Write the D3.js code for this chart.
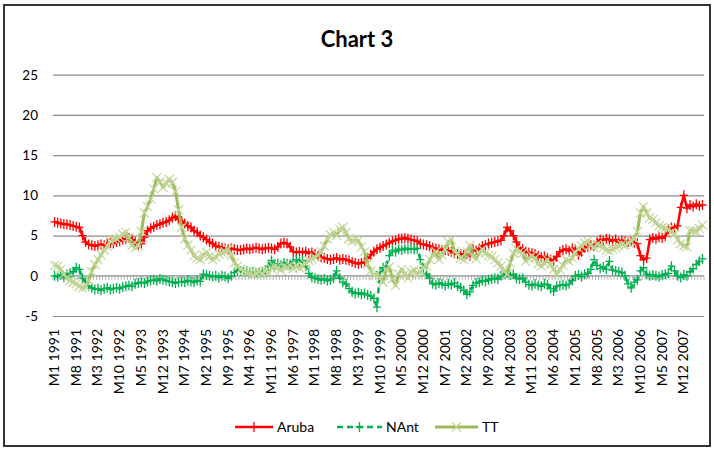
<!DOCTYPE html>
<html><head><meta charset="utf-8">
<script src="https://cdn.jsdelivr.net/npm/d3@7"></script>
<style>body{margin:0;background:#fff}svg{display:block}</style>
</head><body>
<svg id="c" width="714" height="450"></svg>
<script>
const title = "Chart 3";
const years = [1991,1992,1993,1994,1995,1996,1997,1998,1999,2000,2001,2002,2003,2004,2005,2006,2007,2008];
const monthsInLastYear = 6;
const categories = [];
years.forEach(yr => {
  const n = yr === 2008 ? monthsInLastYear : 12;
  for (let m = 1; m <= n; m++) categories.push("M" + m + " " + yr);
});
const labelStep = 7;
const yTicks = [-5, 0, 5, 10, 15, 20, 25];
const seriesNames = ["Aruba", "NAnt", "TT"];

const aruba = [
 6.7,6.6,6.5,6.4,6.4,6.3,6.2,6.1,6.0,5.0,4.2,3.9,
 3.8,3.7,3.8,3.9,3.8,4.0,4.1,4.0,4.2,4.3,4.5,4.6,
 4.7,4.5,4.2,3.9,4.0,4.8,5.6,5.9,6.1,6.3,6.4,6.6,
 6.7,6.9,7.2,7.4,7.0,6.8,6.5,6.2,6.0,5.6,5.4,5.0,
 4.8,4.5,4.2,4.0,3.7,3.6,3.5,3.4,3.3,3.4,3.3,3.2,
 3.2,3.3,3.4,3.3,3.4,3.5,3.4,3.3,3.4,3.5,3.4,3.3,
 3.6,4.0,4.1,4.0,3.6,3.0,2.9,3.0,2.9,3.0,2.8,2.9,
 2.7,2.5,2.3,2.2,2.1,2.0,2.1,2.2,2.0,2.1,2.0,1.9,
 1.7,1.6,1.5,1.6,1.7,2.2,2.6,3.0,3.3,3.5,3.7,3.9,
 4.1,4.3,4.4,4.6,4.6,4.7,4.6,4.5,4.4,4.3,4.0,3.9,
 3.8,3.7,3.5,3.4,3.3,3.2,3.2,3.1,3.0,2.8,2.7,2.7,
 2.6,2.7,2.5,3.3,3.1,3.4,3.7,3.8,4.0,4.1,4.2,4.3,
 4.4,5.0,6.0,5.6,5.0,4.2,3.5,3.3,3.0,2.9,2.8,2.7,
 2.5,2.3,2.4,2.2,2.0,1.9,2.4,3.0,3.2,3.3,3.1,3.4,
 3.3,2.6,3.0,3.5,3.6,3.8,3.7,4.2,4.5,4.4,4.6,4.5,
 4.3,4.5,4.2,4.4,4.3,4.2,4.3,4.1,4.0,2.5,2.0,2.2,
 4.5,4.7,4.6,4.8,4.7,4.9,5.8,6.0,5.9,6.2,8.5,10.0,
 8.4,8.8,8.6,8.9,8.7,8.8
];
const nant = [
 0.0,-0.1,0.1,-0.2,0.2,0.3,0.5,1.0,0.8,-0.3,-0.8,-1.3,
 -1.5,-1.7,-1.6,-1.8,-1.6,-1.5,-1.7,-1.6,-1.5,-1.6,-1.4,-1.3,
 -1.2,-1.3,-1.0,-0.9,-0.8,-0.9,-0.7,-0.6,-0.5,-0.6,-0.4,-0.5,
 -0.6,-0.7,-0.8,-0.9,-0.8,-0.7,-0.8,-0.6,-0.7,-0.8,-0.6,-0.7,
 0.2,0.1,0.0,-0.1,0.0,-0.2,0.0,-0.1,-0.3,0.0,0.4,0.7,
 0.6,0.5,0.6,0.4,0.5,0.3,0.4,0.5,0.4,1.2,1.9,1.4,
 1.5,1.3,1.6,1.5,1.4,1.8,2.0,1.7,1.9,1.2,0.3,-0.2,
 -0.3,-0.4,-0.5,-0.4,-0.6,-0.5,-0.3,0.6,-0.3,-0.8,-1.0,-1.6,
 -2.0,-2.2,-2.1,-2.3,-2.2,-2.4,-2.5,-2.8,-3.9,0.5,1.0,1.2,
 2.5,3.2,3.0,3.3,3.2,3.4,3.3,3.4,3.3,3.4,2.0,1.0,
 0.2,-0.3,-1.0,-1.1,-0.9,-1.0,-1.2,-1.0,-1.1,-0.9,-1.3,-1.5,
 -1.8,-2.3,-2.0,-1.2,-0.9,-0.8,-0.6,-0.7,-0.5,-0.4,-0.3,-0.4,
 0.0,0.2,0.3,0.1,0.2,-0.3,-0.4,-0.3,-0.8,-1.1,-1.2,-1.0,
 -1.2,-1.3,-1.0,-1.1,-1.6,-1.9,-1.3,-1.2,-1.1,-1.2,-1.0,-0.6,
 0.0,0.1,-0.1,0.2,0.3,0.8,2.0,1.3,0.9,1.1,0.8,1.8,
 0.7,0.6,0.5,0.4,0.0,-1.0,-1.5,-0.8,-0.5,0.6,1.0,0.2,
 0.0,0.1,0.0,-0.1,0.1,0.2,0.3,1.2,0.6,0.0,-0.2,0.1,
 0.0,0.5,0.9,1.4,1.8,2.1
];
const tt = [
 1.3,1.2,0.8,0.2,-0.3,-0.6,-0.8,-1.0,-1.3,-1.5,-1.4,-0.6,
 0.5,1.4,2.0,2.6,3.2,3.7,4.3,4.5,4.6,4.8,5.2,5.4,
 4.8,3.8,3.5,3.7,5.5,7.8,8.6,9.6,10.8,12.2,11.7,11.0,
 11.5,12.0,11.6,10.5,8.2,6.0,4.6,3.8,3.2,2.5,2.2,2.0,
 2.6,2.9,2.4,2.0,2.3,2.7,2.9,3.0,3.3,2.6,1.6,1.2,
 0.8,0.6,0.4,0.3,0.2,0.3,0.5,0.3,0.6,0.4,0.9,1.1,
 1.0,0.7,1.2,1.0,1.3,0.9,1.2,1.0,1.2,1.5,1.9,2.1,
 2.3,2.5,3.0,3.7,4.6,5.1,5.4,5.0,5.8,6.0,5.4,4.6,
 4.3,4.5,4.4,3.6,3.0,1.5,0.6,0.0,0.3,-0.3,-0.8,0.8,
 1.1,-0.4,-1.2,0.2,0.8,0.2,-0.3,0.5,0.7,0.2,0.5,1.1,
 1.2,2.0,2.6,3.0,2.0,2.6,3.3,4.2,4.5,3.0,2.8,2.2,
 2.0,3.0,3.8,2.5,2.1,2.9,3.3,2.8,2.5,2.4,2.0,1.6,
 1.2,0.6,0.2,1.6,2.8,3.3,3.0,2.8,1.8,2.2,2.5,2.2,
 1.5,1.2,1.6,2.0,1.4,0.8,0.2,0.8,1.3,2.0,1.8,2.2,
 2.9,3.4,3.7,4.1,4.3,3.8,3.5,3.9,3.8,3.5,3.2,3.1,
 3.3,3.5,3.7,3.9,3.8,4.1,4.3,4.6,5.5,7.8,8.6,7.8,
 7.2,7.0,6.6,6.2,6.0,5.9,5.8,5.4,5.2,4.5,4.0,3.7,
 3.6,5.6,5.6,5.5,5.9,6.3
];

const series = [
  {name: seriesNames[0], values: aruba, color: "#ff0000", mcolor: "#ff0000", dash: null, marker: "plus", width: 2.5},
  {name: seriesNames[1], values: nant, color: "#00b050", mcolor: "#00b050", dash: "6,4", marker: "plus", width: 2.5},
  {name: seriesNames[2], values: tt, color: "#9bbb59", mcolor: "#c3d69b", dash: null, marker: "cross", width: 3}
];

const svg = d3.select("#c");
const font = "Lato, 'Open Sans', sans-serif";
svg.append("rect").attr("x", 4).attr("y", 5).attr("width", 706).attr("height", 441)
  .attr("fill", "#fff").attr("stroke", "#333").attr("stroke-width", 2);

svg.append("text").attr("x", 357).attr("y", 47).attr("text-anchor", "middle")
  .attr("font-family", font).attr("font-weight", "bold").attr("font-size", 22)
  .attr("fill", "#000").text(title);

const x = d3.scaleBand().domain(categories).range([53, 704]);
const y = d3.scaleLinear().domain([-5, 25]).range([316, 74.7]);
const xc = c => x(c) + x.bandwidth() / 2;

// gridlines + y labels
const ya = svg.append("g").attr("transform", "translate(53,0)")
  .call(d3.axisLeft(y).tickValues(yTicks).tickSize(-651).tickPadding(15).tickFormat(d => String(d)));
ya.select(".domain").remove();
ya.selectAll(".tick line").attr("stroke", d => d === 0 ? "none" : "#8c8c8c").attr("stroke-width", 1.2);
ya.selectAll(".tick text").attr("font-family", font).attr("font-size", 13.5).attr("fill", "#000");

// category axis at zero
const y0 = y(0);
svg.append("line").attr("x1", 53).attr("x2", 704).attr("y1", y0).attr("y2", y0)
  .attr("stroke", "#8c8c8c").attr("stroke-width", 1.2);
svg.append("g").selectAll("line").data(categories.concat(["__end"])).join("line")
  .attr("x1", (d, i) => i < categories.length ? x(d) : 704)
  .attr("x2", (d, i) => i < categories.length ? x(d) : 704)
  .attr("y1", y0).attr("y2", y0 + 4).attr("stroke", "#999").attr("stroke-width", 0.8);

// category labels
svg.append("g").selectAll("text")
  .data(categories.filter((d, i) => i % labelStep === 0)).join("text")
  .attr("transform", d => `translate(${xc(d) + 4.5},329) rotate(-90)`)
  .attr("text-anchor", "end").attr("font-family", font).attr("font-size", 14)
  .attr("fill", "#000").text(d => d);

const line = d3.line().x((d, i) => xc(categories[i])).y(d => y(d));

function marker(g, type, cx, cy, color, size) {
  const s = size / 2;
  const p = type === "plus"
    ? `M${cx - s},${cy}H${cx + s}M${cx},${cy - s - 1}V${cy + s + 1}`
    : `M${cx - s},${cy - s}L${cx + s},${cy + s}M${cx - s},${cy + s}L${cx + s},${cy - s}`;
  g.append("path").attr("d", p).attr("stroke", color).attr("stroke-width", type === "plus" ? 1.3 : 1.2).attr("fill", "none");
}

series.forEach(s => {
  const g = svg.append("g");
  g.append("path").datum(s.values).attr("d", line).attr("fill", "none")
    .attr("stroke", s.color).attr("stroke-width", s.width)
    .attr("stroke-dasharray", s.dash).attr("stroke-linejoin", "round");
  const mg = svg.append("g");
  s.values.forEach((v, i) => marker(mg, s.marker, xc(categories[i]), y(v), s.mcolor, s.marker === "plus" ? 8 : 9));
});

// legend
const legendX = [235, 337, 435];
const legendW = [38, 45, 43];
series.forEach((s, k) => {
  const lg = svg.append("g");
  const ly = 427;
  lg.append("line").attr("x1", legendX[k]).attr("x2", legendX[k] + legendW[k]).attr("y1", ly).attr("y2", ly)
    .attr("stroke", s.color).attr("stroke-width", s.width).attr("stroke-dasharray", s.dash);
  marker(lg, s.marker, legendX[k] + legendW[k] / 2, ly, s.mcolor, s.marker === "plus" ? 8 : 9);
  lg.append("text").attr("x", legendX[k] + legendW[k] + 4).attr("y", ly + 5)
    .attr("font-family", font).attr("font-size", 14).attr("fill", "#000").text(s.name);
});
</script>
</body></html>
